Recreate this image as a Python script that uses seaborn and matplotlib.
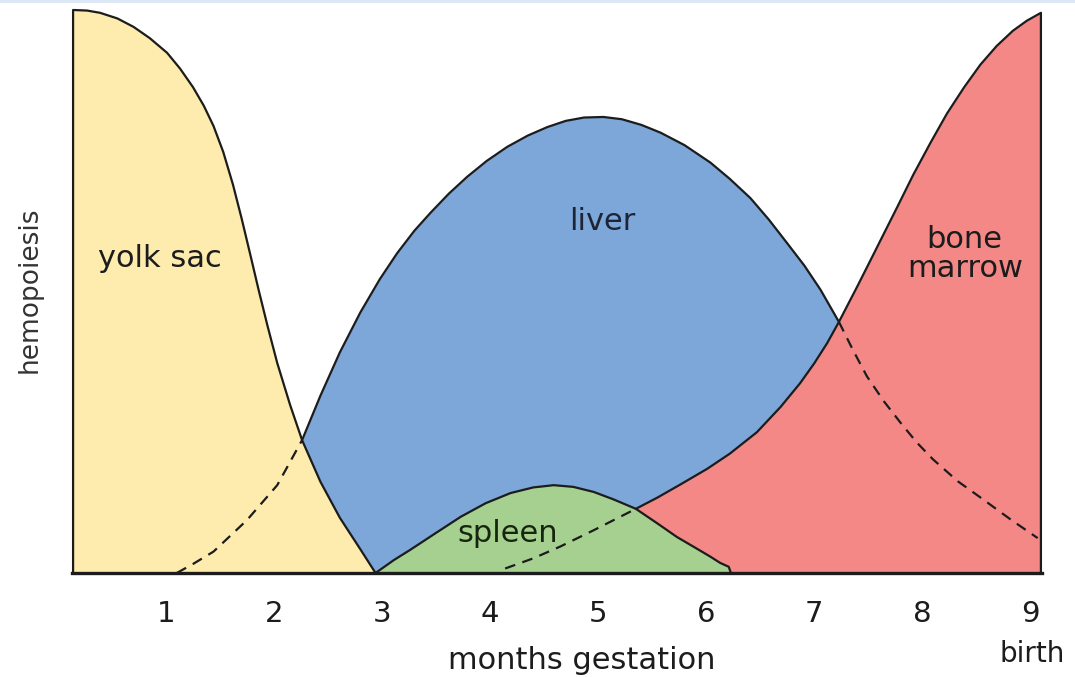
import matplotlib
matplotlib.use("Agg")
import matplotlib.pyplot as plt
import seaborn as sns
import pandas as pd

# ---------------- data ----------------
months = [1, 2, 3, 4, 5, 6, 7, 8, 9]
month_labels = ["1", "2", "3", "4", "5", "6", "7", "8", "9"]

yolk_x = [0.14, 0.27, 0.39, 0.55, 0.70, 0.85, 1.01, 1.13, 1.25, 1.35, 1.44, 1.53, 1.62,
          1.70, 1.78, 1.86, 1.94, 2.03, 2.15, 2.26, 2.43, 2.61, 2.80, 2.94]
yolk_y = [100.0, 99.9, 99.5, 98.5, 97.0, 95.0, 92.4, 89.6, 86.3, 83.0, 79.4, 74.8, 69.0,
          63.0, 56.6, 50.1, 43.9, 37.3, 29.8, 23.6, 16.2, 9.8, 4.2, 0.0]

liver_x = [1.10, 1.25, 1.44, 1.75, 2.03, 2.26, 2.43, 2.61, 2.80, 2.98, 3.14, 3.30, 3.45,
           3.62, 3.79, 3.97, 4.16, 4.35, 4.53, 4.70, 4.87, 5.05, 5.22, 5.40, 5.58, 5.80,
           6.04, 6.22, 6.41, 6.58, 6.75, 6.91, 7.06, 7.23, 7.36, 7.49, 7.65, 7.80, 7.95,
           8.10, 8.33, 8.57, 8.82, 9.07]
liver_y = [0.0, 1.6, 3.8, 9.4, 15.6, 23.6, 31.5, 39.2, 46.3, 52.2, 56.8, 60.8, 64.0,
           67.4, 70.4, 73.2, 75.7, 77.7, 79.2, 80.3, 80.9, 81.0, 80.6, 79.6, 78.2, 76.0,
           72.9, 70.0, 66.6, 62.8, 58.6, 54.6, 50.3, 44.6, 39.6, 34.9, 30.4, 26.7, 23.2,
           20.2, 16.3, 13.0, 9.5, 6.2]
liver_solid = (2.26, 7.23)   # crossings with yolk sac and bone marrow

marrow_x = [4.14, 4.40, 4.65, 4.96, 5.35, 5.55, 5.76, 6.01, 6.22, 6.47, 6.69, 6.87, 7.00,
            7.12, 7.23, 7.40, 7.55, 7.61, 7.77, 7.92, 8.08, 8.23, 8.39, 8.54, 8.69, 8.84,
            8.97, 9.10]
marrow_y = [0.8, 2.6, 4.7, 7.6, 11.4, 13.4, 15.7, 18.5, 21.2, 25.0, 29.5, 33.7, 37.2,
            40.8, 44.6, 50.9, 56.6, 58.9, 65.0, 70.8, 76.5, 81.6, 86.3, 90.3, 93.6, 96.3,
            98.1, 99.5]
marrow_solid_from = 5.35     # crossing with spleen

spleen_x = [2.94, 3.11, 3.26, 3.49, 3.73, 3.96, 4.19, 4.40, 4.59, 4.77, 4.96, 5.14, 5.35,
            5.55, 5.73, 5.89, 6.04, 6.13, 6.21, 6.23]
spleen_y = [0.0, 2.3, 4.1, 7.0, 10.0, 12.4, 14.2, 15.2, 15.6, 15.3, 14.4, 13.1, 11.4,
            8.8, 6.4, 4.6, 2.9, 1.8, 1.1, 0.0]

# ---------------- style ----------------
sns.set_style("white")
plt.rcParams["font.family"] = ["DejaVu Sans"]

C_YOLK = "#FDECAD"
C_LIVER = "#7DA7D9"
C_MARROW = "#F38886"
C_SPLEEN = "#A5D08F"
INK = "#1c1c1c"
LW = 1.6
DASH = (0, (4.8, 3.4))

W, H = 1075, 677
fig = plt.figure(figsize=(W / 100, H / 100), dpi=100)
ax = fig.add_axes([72 / W, (H - 573) / H, 970 / W, 563 / H])
ax.set_xlim(0.13, 9.11)
ax.set_ylim(0, 100)

# ---------------- fills (layer order: liver, marrow, spleen, yolk) ----------------
ax.fill_between(liver_x, liver_y, 0, color=C_LIVER, linewidth=0, zorder=1)
ax.fill_between(marrow_x, marrow_y, 0, color=C_MARROW, linewidth=0, zorder=2)
ax.fill_between(spleen_x, spleen_y, 0, color=C_SPLEEN, linewidth=0, zorder=3)
ax.fill_between(yolk_x, yolk_y, 0, color=C_YOLK, linewidth=0, zorder=4)

# ---------------- outlines ----------------
def line(xs, ys, style="-"):
    df = pd.DataFrame({"x": xs, "y": ys})
    sns.lineplot(data=df, x="x", y="y", ax=ax, color=INK, linewidth=LW,
                 linestyle=style, estimator=None, sort=False, clip_on=False,
                 zorder=6, solid_joinstyle="round", dash_joinstyle="round")

# yolk sac: solid, with vertical left edge
line([yolk_x[0]] + yolk_x, [0] + yolk_y)

# liver: dashed outside, solid between crossings
liv = pd.DataFrame({"x": liver_x, "y": liver_y})
a, b = liver_solid
seg1 = liv[liv.x <= a]
seg2 = liv[(liv.x >= a) & (liv.x <= b)]
seg3 = liv[liv.x >= b]
line(seg1.x.tolist(), seg1.y.tolist(), DASH)
line(seg2.x.tolist(), seg2.y.tolist())
line(seg3.x.tolist(), seg3.y.tolist(), DASH)

# bone marrow: dashed inside spleen, solid afterwards with vertical right edge
mar = pd.DataFrame({"x": marrow_x, "y": marrow_y})
m1 = mar[mar.x <= marrow_solid_from]
m2 = mar[mar.x >= marrow_solid_from]
line(m1.x.tolist(), m1.y.tolist(), DASH)
line(m2.x.tolist() + [marrow_x[-1]], m2.y.tolist() + [0])

# spleen
line(spleen_x, spleen_y)

# ---------------- axes ----------------
for s in ["left", "right", "top"]:
    ax.spines[s].set_visible(False)
ax.spines["bottom"].set_linewidth(2.4)
ax.spines["bottom"].set_color(INK)
ax.spines["bottom"].set_zorder(7)
ax.set_yticks([])
ax.set_xticks(months)
ax.set_xticklabels(month_labels)
ax.tick_params(axis="x", direction="out", length=12.5, width=3.2, color=INK,
               labelsize=21, labelcolor=INK, pad=7)
ax.set_xlabel("")
ax.set_ylabel("")

# ---------------- labels ----------------
FS = 22
ax.text(0.947, 54.4, "yolk sac", ha="center", va="baseline", fontsize=FS, color=INK, zorder=8)
ax.text(5.04, 60.9, "liver", ha="center", va="baseline", fontsize=FS, color="#1d2436", zorder=8)
ax.text(8.39, 57.7, "bone", ha="center", va="baseline", fontsize=FS, color=INK, zorder=8)
ax.text(8.40, 52.6, "marrow", ha="center", va="baseline", fontsize=FS, color=INK, zorder=8)
ax.text(4.16, 5.56, "spleen", ha="center", va="baseline", fontsize=FS, color="#17250f", zorder=8)

fig.text(581.7 / W, 1 - 669 / H, "months gestation", ha="center", va="baseline",
         fontsize=FS, color=INK)
fig.text(1032 / W, 1 - 662 / H, "birth", ha="center", va="baseline",
         fontsize=20, color=INK)
fig.text(30 / W, 1 - 290 / H, "hemopoiesis", ha="center", va="center", rotation=90,
         fontsize=19, color="#333333")

# thin light-blue frame line at the very top
fig.add_artist(plt.Rectangle((0, 1 - 3 / H), 1, 3 / H, transform=fig.transFigure,
                             color="#DCE8F6", linewidth=0))

fig.savefig("out.png", dpi=100)
